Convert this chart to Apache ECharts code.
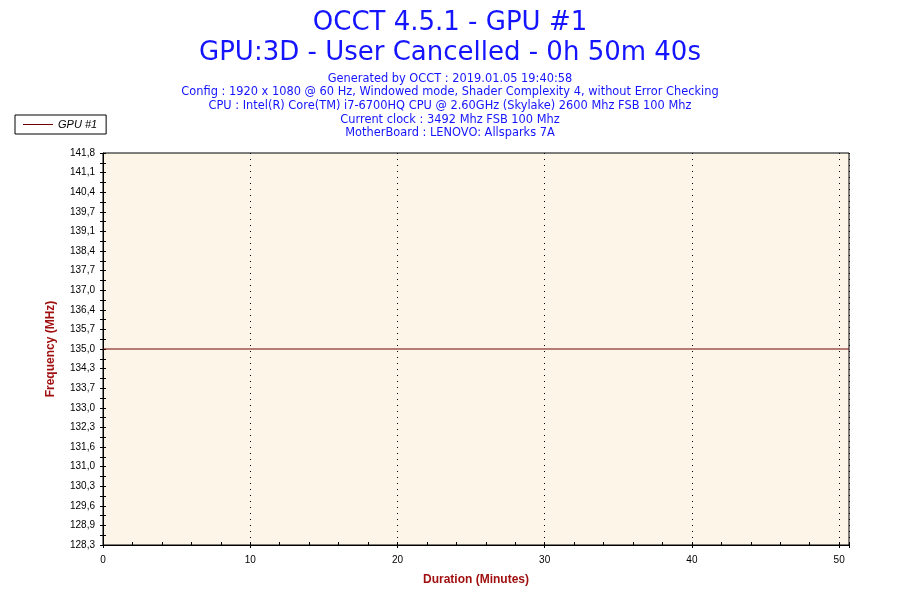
<!DOCTYPE html>
<html><head><meta charset="utf-8">
<script src="https://cdn.jsdelivr.net/npm/echarts@6/dist/echarts.min.js"></script>
<style>html,body{margin:0;padding:0;background:#fff}#c{width:900px;height:600px}</style>
</head><body><div id="c"></div>
<script>
var titleLines = ['OCCT 4.5.1 - GPU #1', 'GPU:3D - User Cancelled - 0h 50m 40s'];
var infoLines = [
  'Generated by OCCT : 2019.01.05 19:40:58',
  'Config : 1920 x 1080 @ 60 Hz, Windowed mode, Shader Complexity 4, without Error Checking',
  'CPU : Intel(R) Core(TM) i7-6700HQ CPU @ 2.60GHz (Skylake) 2600 Mhz FSB 100 Mhz',
  'Current clock : 3492 Mhz FSB 100 Mhz',
  'MotherBoard : LENOVO: Allsparks 7A'
];
var seriesName = 'GPU #1';
var timeMinutes = [0, 50.67];
var freqValues = [135.0, 135.0];
var yMin = 128.25, yMax = 141.75, yStep = 0.675;
var xMin = 0, xMax = 50.67, xStep = 10;

var chart = echarts.init(document.getElementById('c'));
var fontT = '"DejaVu Sans", Verdana, sans-serif';
var fontA = '"Liberation Sans", Arial, sans-serif';
var axisNameStyle = { color: '#a01010', fontWeight: 'bold', fontSize: 12, fontFamily: fontA };
function yFmt(v) { return (Math.round(v * 10 + 1e-6) / 10).toFixed(1).replace('.', ','); }
function xFmt(v) { return Math.abs(v % xStep) < 1e-6 ? String(v) : ''; }
chart.setOption({
  animation: false,
  backgroundColor: '#fff',
  title: [
    { text: titleLines.join('\n'), left: 'center', top: 3,
      textStyle: { color: '#1414ff', fontFamily: fontT, fontSize: 26, fontWeight: 'normal', lineHeight: 30 } },
    { text: infoLines.join('\n'), left: 'center', top: 67,
      textStyle: { color: '#1414ff', fontFamily: fontT, fontSize: 11.4, fontWeight: 'normal', lineHeight: 13.6 } }
  ],
  legend: {
    left: 15, top: 115, orient: 'vertical',
    data: [{ name: seriesName, icon: 'rect' }],
    itemWidth: 30, itemHeight: 1, itemGap: 0,
    padding: [4, 9, 4, 8],
    borderColor: '#000', borderWidth: 1, borderRadius: 0,
    textStyle: { fontFamily: fontA, fontStyle: 'italic', fontSize: 11, color: '#000' }
  },
  grid: { left: 103, right: 51, top: 153, bottom: 55, show: true, backgroundColor: '#fdf6e8', borderColor: '#000', borderWidth: 1 },
  xAxis: [{
    type: 'value', min: xMin, max: xMax, interval: xStep, position: 'bottom',
    name: 'Duration (Minutes)', nameLocation: 'middle', nameGap: 29, nameTextStyle: axisNameStyle,
    axisLine: { lineStyle: { color: '#000' } },
    axisTick: { length: 3, lineStyle: { color: '#000' } },
    minorTick: { show: false },
    axisLabel: { color: '#000', fontSize: 10, margin: 10, fontFamily: fontA, formatter: xFmt },
    splitLine: { show: true, lineStyle: { color: '#000', type: [1, 5], width: 1 } }
  }, {
    type: 'value', min: xMin, max: xMax, interval: xStep, position: 'bottom', offset: 0,
    axisLine: { show: false },
    axisTick: { inside: true, length: 3, lineStyle: { color: '#000' } },
    minorTick: { show: true, splitNumber: 5, length: 3, lineStyle: { color: '#000' } },
    axisLabel: { show: false },
    splitLine: { show: false }
  }],
  yAxis: [{
    type: 'value', min: yMin, max: yMax, interval: yStep, position: 'left',
    name: 'Frequency (MHz)', nameLocation: 'middle', nameGap: 46, nameTextStyle: axisNameStyle,
    axisLine: { lineStyle: { color: '#000' } },
    axisTick: { length: 3, lineStyle: { color: '#000' } },
    minorTick: { show: true, splitNumber: 2, length: 3, lineStyle: { color: '#000' } },
    axisLabel: { color: '#000', fontSize: 10, margin: 8, fontFamily: fontA, formatter: yFmt },
    splitLine: { show: false }
  }, {
    type: 'value', min: yMin, max: yMax, interval: yStep, position: 'left', offset: 0,
    axisLine: { show: false },
    axisTick: { inside: true, length: 3, lineStyle: { color: '#000' } },
    minorTick: { show: true, splitNumber: 2, length: 3, lineStyle: { color: '#000' } },
    axisLabel: { show: false },
    splitLine: { show: false }
  }],
  series: [{
    name: seriesName, type: 'line', symbol: 'none', xAxisIndex: 0, yAxisIndex: 0,
    data: timeMinutes.map(function (t, i) { return [t, freqValues[i]]; }),
    lineStyle: { color: '#6e0000', width: 1 }, itemStyle: { color: '#6e0000' }
  }]
});
</script></body></html>
